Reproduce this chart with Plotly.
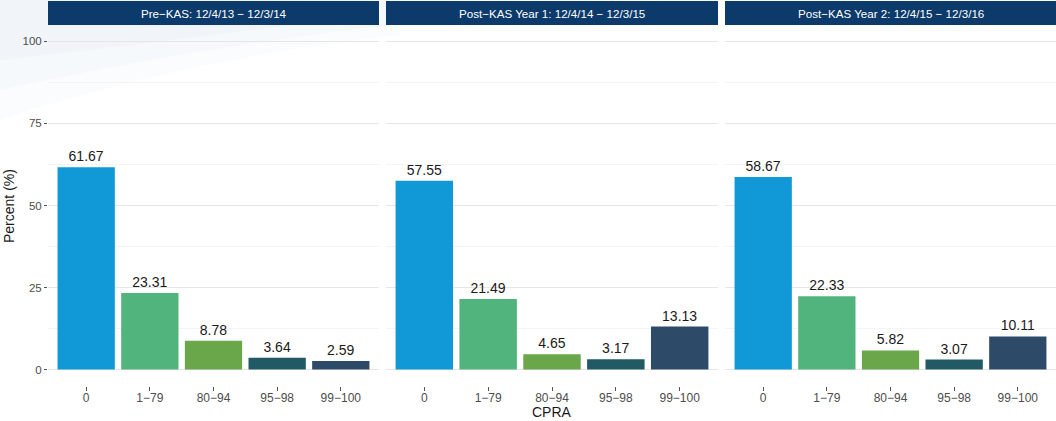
import plotly.graph_objects as go

categories = ["0", "1−79", "80−94", "95−98", "99−100"]
panel_titles = [
    "Pre−KAS: 12/4/13 − 12/3/14",
    "Post−KAS Year 1: 12/4/14 − 12/3/15",
    "Post−KAS Year 2: 12/4/15 − 12/3/16",
]
pre_kas = [61.67, 23.31, 8.78, 3.64, 2.59]
post_kas_y1 = [57.55, 21.49, 4.65, 3.17, 13.13]
post_kas_y2 = [58.67, 22.33, 5.82, 3.07, 10.11]
y_ticks = [0, 25, 50, 75, 100]

bar_colors = ["#1199d7", "#52b47d", "#69a74a", "#215a64", "#2e4a69"]
series = [pre_kas, post_kas_y1, post_kas_y2]

W, H = 1056, 421
ML, MR, MT, MB = 48, 0, 25, 35
pw = W - ML - MR
ph = H - MT - MB
panels_px = [(48, 379), (386, 718), (725, 1056)]
domains = [((a - ML) / pw, (b - ML) / pw) for a, b in panels_px]

font_family = "Liberation Sans, Arial, sans-serif"

def px_x(x):
    return (x - ML) / pw

def px_y(y):
    return 1 - (y - MT) / ph

fig = go.Figure()

for i, vals in enumerate(series):
    sfx = "" if i == 0 else str(i + 1)
    fig.add_trace(go.Bar(
        x=categories, y=vals,
        marker=dict(color=bar_colors, line=dict(width=0)),
        width=0.9,
        text=[f"{v:.2f}" for v in vals],
        textposition="outside",
        textfont=dict(size=14, color="#1a1a1a", family=font_family),
        cliponaxis=False,
        xaxis="x" + sfx, yaxis="y" + sfx,
        showlegend=False,
        hoverinfo="x+y",
    ))

layout = dict(
    width=W, height=H,
    margin=dict(l=ML, r=MR, t=MT, b=MB, autoexpand=False),
    paper_bgcolor="white", plot_bgcolor="rgba(0,0,0,0)",
    font=dict(family=font_family, color="#4d4d4d", size=11),
    uniformtext=dict(minsize=14, mode="show"),
)

for i in range(3):
    sfx = "" if i == 0 else str(i + 1)
    xa = dict(
        domain=list(domains[i]),
        anchor="y" + sfx,
        type="category",
        range=[-0.6, 4.6],
        showgrid=False, zeroline=False, showline=False,
        ticks="outside", ticklen=4, tickwidth=1, tickcolor="#555",
        tickfont=dict(size=12, color="#4d4d4d"),
        ticklabelstandoff=-3,
        automargin=False,
        fixedrange=True,
    )
    ya = dict(
        domain=[0, 1],
        anchor="x" + sfx,
        range=[-5, 105],
        tickvals=y_ticks,
        showgrid=True, gridcolor="#e6e6e6", gridwidth=1,
        zeroline=False, showline=False,
        minor=dict(dtick=12.5, tick0=0, showgrid=True, gridcolor="#f4f4f4", gridwidth=1, ticks=""),
        automargin=False,
        fixedrange=True,
    )
    if i == 0:
        ya.update(
            ticks="outside", ticklen=3, tickwidth=1, tickcolor="#555",
            tickfont=dict(size=11.5, color="#4d4d4d"),
        )
    else:
        ya.update(showticklabels=False, ticks="")
    layout["xaxis" + sfx] = xa
    layout["yaxis" + sfx] = ya

shapes = []
# faint watermark swoosh in top-left, layered for a soft fade
for (xr, yr, yl, alpha) in [(400, 35, 120, 0.08), (390, 25, 90, 0.10), (370, 15, 60, 0.12)]:
    shapes.append(dict(
        type="path", xref="paper", yref="paper", layer="below",
        path=f"M {px_x(0)} {px_y(0)} L {px_x(xr)} {px_y(0)} L {px_x(xr)} {px_y(yr)} "
             f"Q {px_x(180)} {px_y(yr + 25)} {px_x(0)} {px_y(yl)} Z",
        fillcolor=f"rgba(205,222,240,{alpha})", line=dict(width=0)))

annotations = []
for i in range(3):
    x0, x1 = domains[i]
    shapes.append(dict(type="rect", xref="paper", yref="paper",
                       x0=x0, x1=x1, y0=px_y(25), y1=px_y(1),
                       fillcolor="#0c3a6b", line=dict(width=0)))
    annotations.append(dict(text=panel_titles[i], xref="paper", yref="paper",
                            x=(x0 + x1) / 2, y=px_y(13),
                            xanchor="center", yanchor="middle", showarrow=False,
                            font=dict(size=11.6, color="white", family=font_family)))

# axis titles
annotations.append(dict(text="Percent (%)", xref="paper", yref="paper",
                        x=px_x(9), y=px_y(206), textangle=-90,
                        xanchor="center", yanchor="middle", showarrow=False,
                        font=dict(size=14, color="#1a1a1a", family=font_family)))
annotations.append(dict(text="CPRA", xref="paper", yref="paper",
                        x=(domains[1][0] + domains[1][1]) / 2, y=px_y(412),
                        xanchor="center", yanchor="middle", showarrow=False,
                        font=dict(size=14, color="#1a1a1a", family=font_family)))

layout["shapes"] = shapes
layout["annotations"] = annotations
fig.update_layout(**layout)

fig.write_html("out.html", config={"displayModeBar": False},
               post_script="document.body.style.margin='0';document.body.style.padding='0';")
